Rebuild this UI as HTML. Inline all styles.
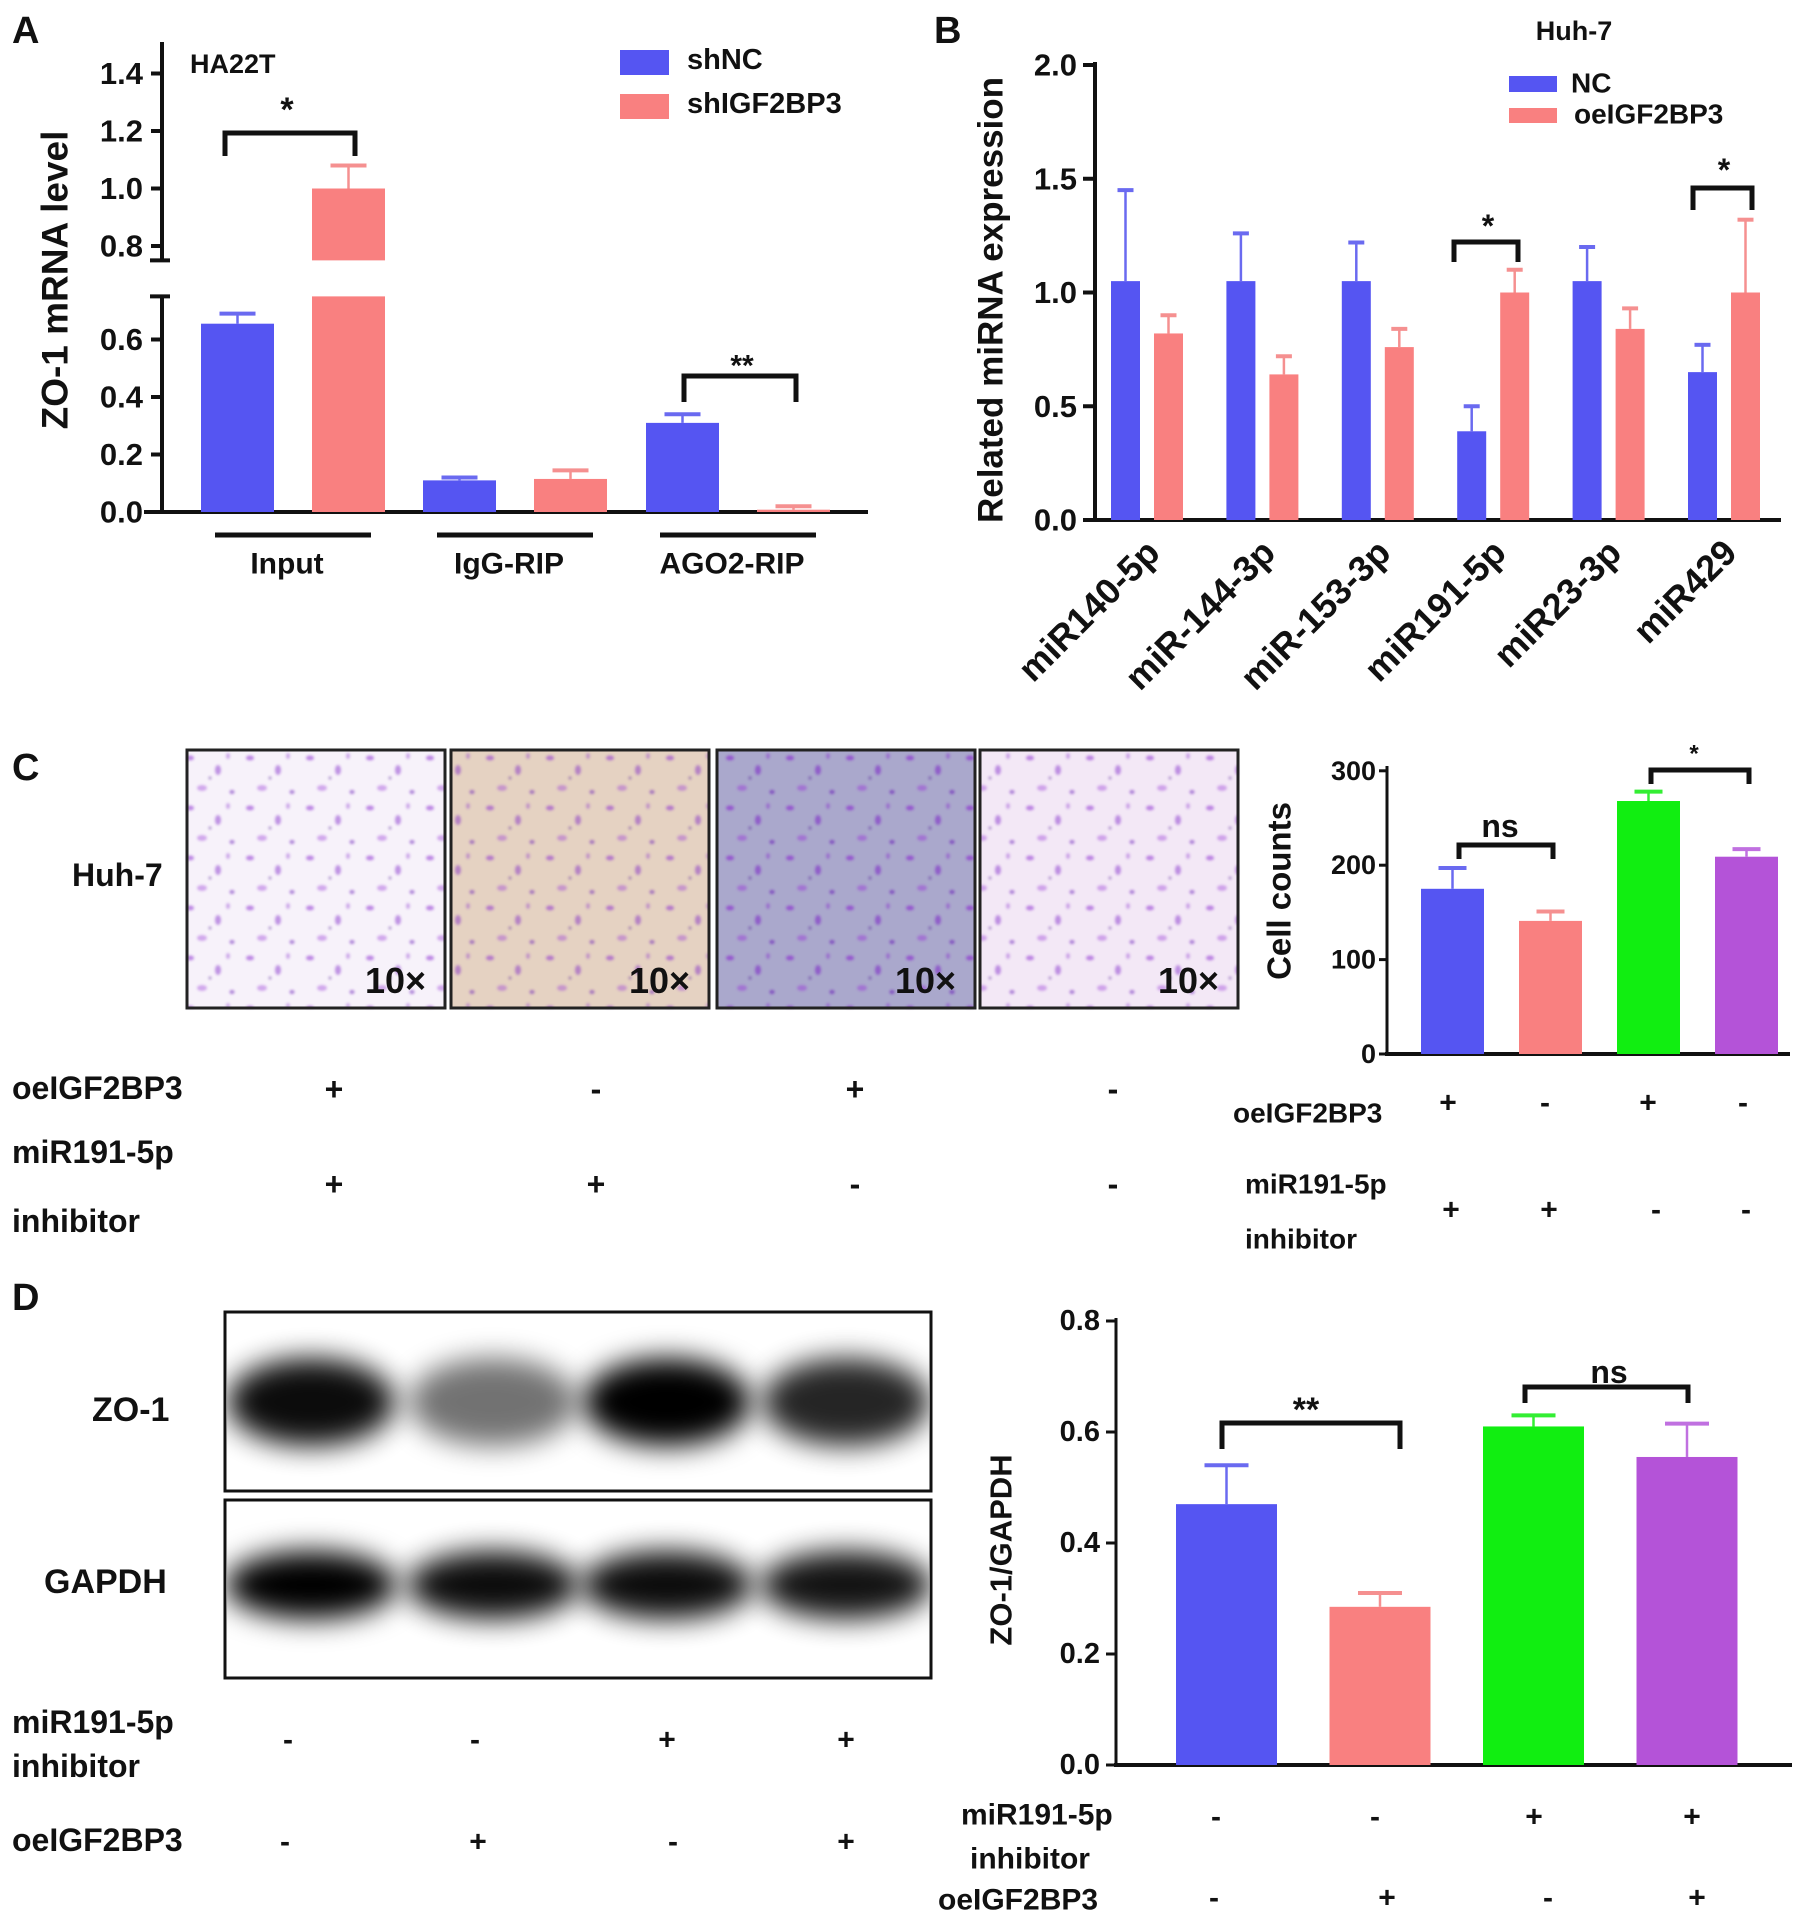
<!DOCTYPE html>
<html><head><meta charset="utf-8"><style>
html,body{margin:0;padding:0;background:#fff}
svg{display:block;font-family:"Liberation Sans",Arial,sans-serif;font-weight:bold}
</style></head><body>
<svg id="fig" width="1795" height="1925" viewBox="0 0 1795 1925" xmlns="http://www.w3.org/2000/svg">
<defs>
<filter id="blur" x="-30%" y="-60%" width="160%" height="220%"><feGaussianBlur stdDeviation="14"/></filter>
<filter id="blur2"><feGaussianBlur stdDeviation="1.2"/></filter>
<pattern id="cells" width="60" height="50" patternUnits="userSpaceOnUse">
<ellipse cx="10" cy="8" rx="4" ry="2.5" fill="#8a2bd0" opacity="0.7"/>
<ellipse cx="38" cy="20" rx="3" ry="5" fill="#7a20c8" opacity="0.6"/>
<ellipse cx="22" cy="38" rx="5" ry="3" fill="#9a40d8" opacity="0.55"/>
<ellipse cx="52" cy="42" rx="2.5" ry="2" fill="#6a18b8" opacity="0.7"/>
<ellipse cx="48" cy="6" rx="2" ry="3" fill="#8a30d0" opacity="0.5"/>
<circle cx="30" cy="28" r="1.5" fill="#552299" opacity="0.6"/>
</pattern>
</defs>
<g id="root"></g>
</svg>
<script>
// ---------- Panel A data ----------
const aGroups = ["Input", "IgG-RIP", "AGO2-RIP"];
const aShNC = [0.655, 0.11, 0.31];
const aShNCErr = [0.69, 0.12, 0.34];
const aShIGF = [1.0, 0.115, 0.008];
const aShIGFErr = [1.08, 0.145, 0.02];
const aTicks = [0.0, 0.2, 0.4, 0.6, 0.8, 1.0, 1.2, 1.4];
// ---------- Panel B data ----------
const bCats = ["miR140-5p", "miR-144-3p", "miR-153-3p", "miR191-5p", "miR23-3p", "miR429"];
const bNC = [1.05, 1.05, 1.05, 0.39, 1.05, 0.65];
const bNCErr = [1.45, 1.26, 1.22, 0.5, 1.2, 0.77];
const bOE = [0.82, 0.64, 0.76, 1.0, 0.84, 1.0];
const bOEErr = [0.9, 0.72, 0.84, 1.1, 0.93, 1.32];
const bTicks = [0.0, 0.5, 1.0, 1.5, 2.0];
// ---------- Panel C data ----------
const cVals = [175, 141, 268, 209];
const cErr = [197, 151, 278, 217];
const cTicks = [0, 100, 200, 300];
// ---------- Panel D data ----------
const dVals = [0.47, 0.285, 0.61, 0.555];
const dErr = [0.54, 0.31, 0.63, 0.615];
const dTicks = [0.0, 0.2, 0.4, 0.6, 0.8];

const NS = "http://www.w3.org/2000/svg";
const root = document.getElementById("root");
const BLUE = "#5555f2", RED = "#f98080", GREEN = "#11ee11", PURPLE = "#b453d8";
const ERR_BLUE = "#6a6af0", ERR_RED = "#f59090";
function mk(tag, attrs, parent, text) {
  const e = document.createElementNS(NS, tag);
  for (const k in attrs) e.setAttribute(k, attrs[k]);
  if (text !== undefined) e.textContent = text;
  (parent || root).appendChild(e);
  return e;
}
function line(x1, y1, x2, y2, w, c) { return mk("line", {x1, y1, x2, y2, stroke: c || "#111", "stroke-width": w || 4}); }
function txt(x, y, s, size, anchor) {
  return mk("text", {x, y, "font-size": size, "text-anchor": anchor || "start", "dominant-baseline": "central", fill: "#111"}, root, s);
}
function bracket(x1, x2, y, drop) {
  const p = mk("path", {d: `M${x1},${y + drop} L${x1},${y} L${x2},${y} L${x2},${y + drop}`, fill: "none", stroke: "#111", "stroke-width": 5});
  
  
}
function errbar(x, y0, y1, c, hw) {
  line(x, y0, x, y1, 2.5, c);
  line(x - hw, y1, x + hw, y1, 4, c);
}

// ===== Panel labels =====
[["A", 12, 31], ["B", 934, 31], ["C", 12, 768], ["D", 12, 1298]].forEach(([s, x, y]) => {
  const t = txt(x, y, s, 38);
  
  
});

// ===== Panel A =====
const A0 = 512, AU = 287.5, ABRK = 0.75, AGAP = 36;
function yA(v) { return v <= ABRK ? A0 - v * AU : A0 - v * AU - AGAP; }
const aBrkLow = A0 - ABRK * AU, aBrkHigh = aBrkLow - AGAP;
line(162, 42, 162, aBrkHigh, 4); line(162, aBrkLow, 162, A0 + 2, 4);
line(150, aBrkHigh, 170, aBrkHigh, 4); line(150, aBrkLow, 170, aBrkLow, 4);
line(144, A0, 868, A0, 4);
aTicks.forEach(v => {
  if (v > 0.6 && v < 0.8) return;
  const y = yA(v);
  line(151, y, 162, y, 4);
  const t = txt(143, y, v.toFixed(1), 31, "end");
  
  
});
const aT = txt(0, 0, "ZO-1 mRNA level", 37, "middle");
aT.setAttribute("transform", "translate(55,280) rotate(-90)");


const aGroupX = [201, 423, 646], aBW = 73, aRedOff = 111;
aGroups.forEach((g, i) => {
  const xb = aGroupX[i], xr = xb + aRedOff;
  const b = mk("rect", {x: xb, y: yA(aShNC[i]), width: aBW, height: A0 - yA(aShNC[i]), fill: BLUE});
  
  
  errbar(xb + aBW / 2, yA(aShNC[i]), yA(aShNCErr[i]), ERR_BLUE, 18);
  const v = aShIGF[i];
  if (v > ABRK) {
    const r1 = mk("rect", {x: xr, y: aBrkLow, width: aBW, height: A0 - aBrkLow, fill: RED});
    
    
    const r2 = mk("rect", {x: xr, y: yA(v), width: aBW, height: aBrkHigh - yA(v), fill: RED});
    
    
  } else {
    const r = mk("rect", {x: xr, y: yA(v), width: aBW, height: A0 - yA(v), fill: RED});
    
    
  }
  errbar(xr + aBW / 2, yA(v), yA(aShIGFErr[i]), ERR_RED, 18);
  const cx = (xb + xr + aBW) / 2;
  line(cx - 78, 535, cx + 78, 535, 5);
  const lt = txt(cx - 6, 564, g, 30, "middle");
  
  
});
bracket(225, 355, 133, 23); txt(287, 110, "*", 34, "middle");
bracket(684, 796, 376, 26); txt(742, 366, "**", 30, "middle");
txt(190, 64, "HA22T", 27);
mk("rect", {x: 620, y: 50, width: 49, height: 25, fill: BLUE});
mk("rect", {x: 620, y: 94, width: 49, height: 25, fill: RED});
txt(687, 60, "shNC", 29); txt(687, 104, "shIGF2BP3", 29);

// ===== Panel B =====
function yB(v) { return 520 - v * 227.5; }
line(1095, 62, 1095, 522, 4);
line(1093, 520, 1781, 520, 4);
bTicks.forEach(v => {
  const y = yB(v);
  line(1083, y, 1095, y, 4);
  const t = txt(1077, y, v.toFixed(1), 31, "end");
  
  
});
const bT = txt(0, 0, "Related miRNA expression", 35, "middle");
bT.setAttribute("transform", "translate(991,300) rotate(-90)");


const bW = 29, bStep = 115.4, bX0 = 1111, bGap = 43;
bCats.forEach((c, i) => {
  const xb = bX0 + i * bStep, xr = xb + bGap;
  const b = mk("rect", {x: xb, y: yB(bNC[i]), width: bW, height: 520 - yB(bNC[i]), fill: BLUE});
  
  
  errbar(xb + bW / 2, yB(bNC[i]), yB(bNCErr[i]), ERR_BLUE, 8);
  const r = mk("rect", {x: xr, y: yB(bOE[i]), width: bW, height: 520 - yB(bOE[i]), fill: RED});
  
  
  errbar(xr + bW / 2, yB(bOE[i]), yB(bOEErr[i]), ERR_RED, 8);
  const cx = xb + (bGap + bW) / 2 + 6;
  const t = mk("text", {x: 0, y: 0, "font-size": 36, "text-anchor": "end", "dominant-baseline": "central", fill: "#111", transform: `translate(${cx},${546}) rotate(-45)`}, root, c);
  
  
});
bracket(1454, 1518, 242, 20); txt(1488, 226, "*", 32, "middle");
bracket(1693, 1752, 188, 22); txt(1724, 170, "*", 32, "middle");
txt(1574, 31, "Huh-7", 27, "middle");
mk("rect", {x: 1509, y: 76, width: 48, height: 16, fill: BLUE});
mk("rect", {x: 1509, y: 108, width: 48, height: 15, fill: RED});
txt(1571, 83, "NC", 28); txt(1574, 114, "oeIGF2BP3", 28);

// ===== Panel C images =====
const imgs = [[187, "#f7f2fa"], [451, "#e5d2c2"], [717, "#aaa8cc"], [980, "#f3e8f6"]];
imgs.forEach(([x, bg], i) => {
  const g = mk("g", {});
  
  
  mk("rect", {x, y: 750, width: 258, height: 258, fill: bg}, g);
  mk("rect", {x, y: 750, width: 258, height: 258, fill: "url(#cells)", filter: "url(#blur2)", opacity: i === 2 ? 0.9 : 0.75}, g);
  mk("rect", {x, y: 750, width: 258, height: 258, fill: "none", stroke: "#222", "stroke-width": 3}, g);
  mk("text", {x: x + 178, y: 993, "font-size": 36, fill: "#111", "font-weight": "bold"}, g, "10×");
});
txt(72, 875, "Huh-7", 32);
const cRows = [["oeIGF2BP3", 1089, ["+", "-", "+", "-"]], ["", 1184, ["+", "+", "-", "-"]]];
txt(12, 1088, "oeIGF2BP3", 32); txt(12, 1152, "miR191-5p", 32); txt(12, 1221, "inhibitor", 32);
const cSignX = [334, 596, 855, 1113];
cRows.forEach(r => r[2].forEach((s, j) => txt(cSignX[j], r[1], s, 32, "middle")));

// ===== Panel C chart =====
function yC(v) { return 1054 - v * 0.944; }
line(1387, 766, 1387, 1056, 3);
line(1385, 1054, 1790, 1054, 4);
cTicks.forEach(v => {
  const y = yC(v);
  line(1379, y, 1387, y, 3);
  const t = txt(1376, y, String(v), 27, "end");
  
  
});
const cT = txt(0, 0, "Cell counts", 33, "middle");
cT.setAttribute("transform", "translate(1279,891) rotate(-90)");


const cColors = [BLUE, RED, GREEN, PURPLE], cErrC = [ERR_BLUE, ERR_RED, "#33ee33", "#c070e0"];
const cX0 = 1421, cStep = 98, cW = 63;
cVals.forEach((v, i) => {
  const x = cX0 + i * cStep;
  const b = mk("rect", {x, y: yC(v), width: cW, height: 1054 - yC(v), fill: cColors[i]});
  
  
  errbar(x + cW / 2, yC(v), yC(cErr[i]), cErrC[i], 14);
});
bracket(1459, 1553, 845, 14); txt(1500, 826, "ns", 32, "middle");
bracket(1651, 1749, 770, 14); txt(1694, 754, "*", 24, "middle");
txt(1233, 1113, "oeIGF2BP3", 28); txt(1245, 1184, "miR191-5p", 28); txt(1245, 1239, "inhibitor", 28);
const cRX1 = [1448, 1545, 1648, 1743], cR1 = ["+", "-", "+", "-"];
const cRX2 = [1451, 1549, 1656, 1746], cR2 = ["+", "+", "-", "-"];
cR1.forEach((s, j) => txt(cRX1[j], 1103, s, 30, "middle"));
cR2.forEach((s, j) => txt(cRX2[j], 1210, s, 30, "middle"));

// ===== Panel D blot =====
const blot = mk("g", {});


mk("rect", {x: 225, y: 1312, width: 706, height: 179, fill: "#fff", stroke: "#111", "stroke-width": 3}, blot);
mk("rect", {x: 225, y: 1500, width: 706, height: 178, fill: "#fff", stroke: "#111", "stroke-width": 3}, blot);
const laneX = [311, 493, 667, 846];
const zoInt = [0.95, 0.55, 1.0, 0.85];
const gInt = [1.0, 0.95, 0.95, 0.92];
const clipZ = mk("clipPath", {id: "cz"}, blot); mk("rect", {x: 227, y: 1314, width: 702, height: 175}, clipZ);
const clipG = mk("clipPath", {id: "cg"}, blot); mk("rect", {x: 227, y: 1502, width: 702, height: 174}, clipG);
const gz = mk("g", {"clip-path": "url(#cz)"}, blot), gg = mk("g", {"clip-path": "url(#cg)"}, blot);
laneX.forEach((x, i) => {
  mk("ellipse", {cx: x, cy: 1402, rx: 84, ry: 44, fill: "#000", opacity: zoInt[i], filter: "url(#blur)"}, gz);
  mk("ellipse", {cx: x, cy: 1585, rx: 86, ry: 34, fill: "#000", opacity: gInt[i], filter: "url(#blur)"}, gg);
});
txt(92, 1410, "ZO-1", 34); txt(44, 1582, "GAPDH", 34);
txt(12, 1722, "miR191-5p", 32); txt(12, 1766, "inhibitor", 32); txt(12, 1840, "oeIGF2BP3", 32);
const dL1 = ["-", "-", "+", "+"], dL1X = [288, 475, 667, 846];
const dL2 = ["-", "+", "-", "+"], dL2X = [285, 478, 673, 846];
dL1.forEach((s, j) => txt(dL1X[j], 1740, s, 30, "middle"));
dL2.forEach((s, j) => txt(dL2X[j], 1842, s, 30, "middle"));

// ===== Panel D chart =====
function yD(v) { return 1765 - v * 555; }
line(1116, 1318, 1116, 1767, 3);
line(1114, 1765, 1792, 1765, 4);
dTicks.forEach(v => {
  const y = yD(v);
  line(1106, y, 1116, y, 3);
  const t = txt(1100, y, v.toFixed(1), 29, "end");
  
  
});
const dT = txt(0, 0, "ZO-1/GAPDH", 31, "middle");
dT.setAttribute("transform", "translate(1001,1550) rotate(-90)");


const dX0 = 1176, dStep = 153.5, dW = 101;
dVals.forEach((v, i) => {
  const x = dX0 + i * dStep;
  const b = mk("rect", {x, y: yD(v), width: dW, height: 1765 - yD(v), fill: cColors[i]});
  
  
  errbar(x + dW / 2, yD(v), yD(dErr[i]), cErrC[i], 22);
});
bracket(1222, 1400, 1423, 26); txt(1306, 1410, "**", 34, "middle");
bracket(1525, 1688, 1387, 16); txt(1609, 1372, "ns", 32, "middle");
txt(961, 1815, "miR191-5p", 30); txt(970, 1859, "inhibitor", 30); txt(938, 1900, "oeIGF2BP3", 30);
const dR1 = ["-", "-", "+", "+"], dR1X = [1216, 1375, 1534, 1692];
const dR2 = ["-", "+", "-", "+"], dR2X = [1214, 1387, 1548, 1697];
dR1.forEach((s, j) => txt(dR1X[j], 1817, s, 30, "middle"));
dR2.forEach((s, j) => txt(dR2X[j], 1898, s, 30, "middle"));
</script>
</body></html>
